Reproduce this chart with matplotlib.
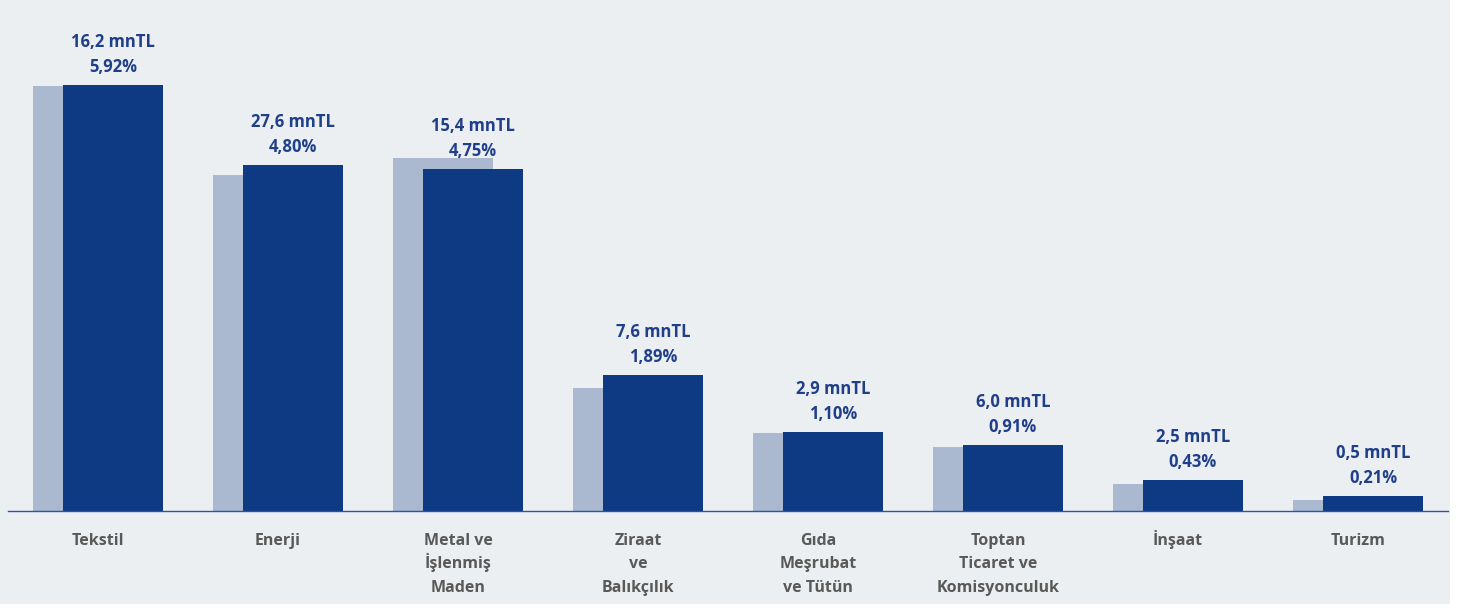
import numpy as np
import matplotlib.pyplot as plt
from matplotlib.patches import Rectangle

# data
sektorler = ['Tekstil', 'Enerji', 'Metal ve\nİşlenmiş\nMaden', 'Ziraat\nve\nBalıkçılık',
             'Gıda\nMeşrubat\nve Tütün', 'Toptan\nTicaret ve\nKomisyonculuk', 'İnşaat', 'Turizm']
onceki = [5.90, 4.67, 4.90, 1.71, 1.08, 0.89, 0.38, 0.15]   # light bars
oran = [5.92, 4.80, 4.75, 1.89, 1.10, 0.91, 0.43, 0.21]     # dark bars (%)
tutar = ['16,2', '27,6', '15,4', '7,6', '2,9', '6,0', '2,5', '0,5']  # mnTL

koyu = '#0e3a84'
acik = '#aab9d0'
zemin = '#eceff1'
yazi_mavi = '#1f3f8a'
yazi_gri = '#595959'

plt.rcParams['font.family'] = ['Open Sans', 'DejaVu Sans']

fig = plt.figure(figsize=(14.62, 6.09), dpi=100, facecolor='white')
fig.patches.append(Rectangle((0, 5 / 609), 1450 / 1462, 1 - 5 / 609,
                             transform=fig.transFigure, facecolor=zemin,
                             edgecolor='none', zorder=-10))

ax = fig.add_axes([8 / 1462, (609 - 511) / 609, 1440 / 1462, 511 / 609])
ax.set_facecolor('none')

x = np.arange(len(sektorler))
w = 0.556
kay = 0.0833
ax.bar(x - kay, onceki, width=w, color=acik, zorder=1)
ax.bar(x + kay, oran, width=w, color=koyu, zorder=2)

px = 0.72  # points per pixel at dpi 100

# value labels, one annotate per line so the spacing stays even
for xi, o, t in zip(x, oran, tutar):
    satirlar = [f'{t} mnTL', f'{o:.2f}%'.replace('.', ',')]
    for j, s in enumerate(satirlar):
        ax.annotate(s, (xi + kay, o), xytext=(0, (13 + 25 * (1 - j)) * px),
                    textcoords='offset points', ha='center', va='baseline',
                    fontsize=12, fontweight='bold', color=yazi_mavi)

# category labels below the axis
for xi, ad in zip(x, sektorler):
    for j, s in enumerate(ad.split('\n')):
        ax.annotate(s, (xi, 0), xycoords=('data', 'axes fraction'),
                    xytext=(0, -(34 + 23.5 * j) * px), textcoords='offset points',
                    ha='center', va='baseline', fontsize=11.5, fontweight='bold',
                    color=yazi_gri, annotation_clip=False)

ax.set_xlim(-0.5, 7.5)
ax.set_ylim(0, 511 / 72)
ax.set_xticks([])
ax.set_yticks([])
for s in ['top', 'right', 'left']:
    ax.spines[s].set_visible(False)
ax.spines['bottom'].set_color('#2456aa')
ax.spines['bottom'].set_linewidth(1.0)
ax.spines['bottom'].set_zorder(3)

fig.savefig('out.png', dpi=100, facecolor=fig.get_facecolor())
